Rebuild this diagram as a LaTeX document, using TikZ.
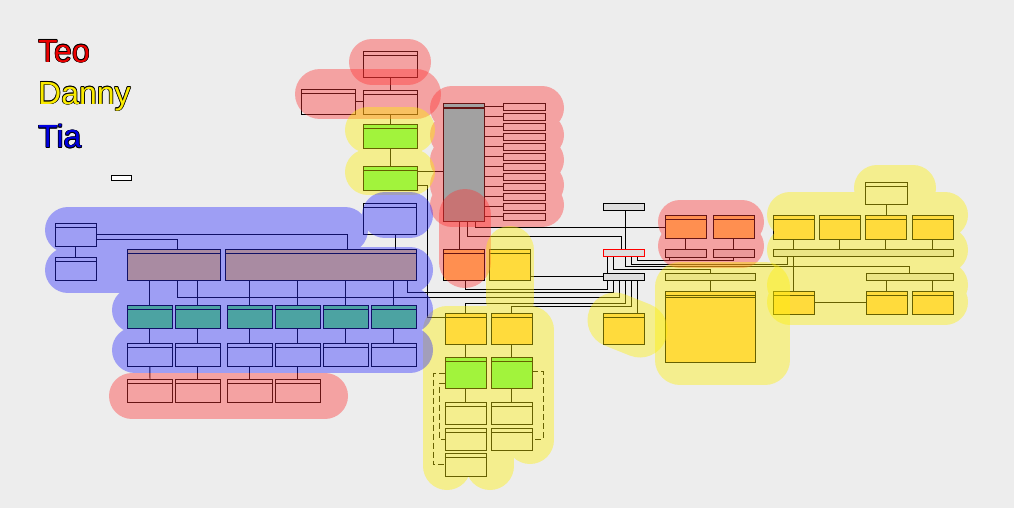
\documentclass[tikz,border=0pt]{standalone}
\usepackage{fontspec}
\setmainfont{Liberation Sans}
\definecolor{bgc}{RGB}{237,237,237}
\definecolor{orf}{RGB}{255,205,100}
\definecolor{grf}{RGB}{100,245,100}
\definecolor{cyf}{RGB}{100,235,235}
\definecolor{lgf}{RGB}{222,222,222}
\definecolor{hr}{RGB}{255,50,50}
\definecolor{hy}{RGB}{255,240,0}
\definecolor{hb}{RGB}{40,40,255}
\definecolor{tred}{RGB}{235,0,0}
\definecolor{tyel}{RGB}{250,235,0}
\definecolor{tblu}{RGB}{0,0,225}
\tikzset{
 ubx/.style={draw=black, line width=0.95pt, inner sep=0pt, outer sep=0pt, anchor=north west},
 cn/.style={draw=black, line width=0.95pt},
 dcn/.style={cn, dash pattern=on 6pt off 3pt},
 hl/.style={line cap=round, line join=round, draw opacity=0.4},
 lg/.style={anchor=base west, inner sep=0pt, font=\fontsize{32}{32}\selectfont},
}
\newcommand\mk[6]{\node[ubx, fill=#6, minimum width={#4-#2}, minimum height={#5-#3}] (#1) at (#2,#3) {};}
\newcommand\mkh[6]{\mk{#1}{#2}{#3}{#4}{#5}{#6}\draw[cn, line width=0.7pt] ([yshift=-4pt]#1.north west) -- ([yshift=-4pt]#1.north east);}
\newcommand\otext[5]{%
 \foreach \dx/\dy in {-0.7/0,0.7/0,0/-0.7,0/0.7,-0.5/-0.5,0.5/0.5,-0.5/0.5,0.5/-0.5}{%
  \node[lg, text=black] at (#2+\dx,#3+\dy) {#5};}
 \node[lg, text=#4] (#1) at (#2,#3) {#5};}
\begin{document}
\begin{tikzpicture}[x=1pt,y=-1pt]
\fill[bgc] (0,0) rectangle (1014,508);
\useasboundingbox (0,0) rectangle (1014,508);
% legend
\otext{teo}{38}{62.3}{tred}{Teo}
\otext{danny}{38}{104.3}{tyel}{Danny}
\otext{tia}{38}{147.7}{tblu}{Tia}
\mk{lgbox}{111}{175}{131}{180}{white}
% top column
\mkh{A}{363}{51}{417}{77}{none}
\mkh{B}{301}{89}{355}{114}{none}
\mkh{C}{363}{90}{417}{114}{none}
\mkh{D}{363}{124}{417}{148}{grf}
\mkh{E}{363}{166}{417}{190}{grf}
\draw[cn] (A.south) -- (C.north);
\draw[cn] (B.east) -- (B.east -| C.west);
\draw[cn] (C.south) -- (D.north);
\draw[cn] (D.south) -- (E.north);
% big box and list
\mkh{G}{443}{103}{484}{221}{cyf}
\draw[cn, line width=0.7pt] ([yshift=-5.5pt]G.north west) -- ([yshift=-5.5pt]G.north east);
\foreach \i in {0,...,11}{%
 \pgfmathsetmacro\ya{103+10*\i}\pgfmathsetmacro\yb{110.7+10*\i}
 \mk{s\i}{503}{\ya}{545}{\yb}{none}
 \draw[cn] (G.east |- s\i.west) -- (s\i.west);}
\draw[cn] ([yshift=-5.3pt]E.north east) -- +(26,0);
\mkh{H}{443}{249}{484}{280}{orf}
\mkh{J}{489}{249}{530}{280}{orf}
\draw[cn] ([xshift=16.7pt]G.south west) -- ([xshift=16.7pt]H.north west);
% grey header boxes
\mk{M}{603}{203}{644}{210}{lgf}
\node[ubx, draw=red, fill=lgf, minimum width=41, minimum height=7.5] (L) at (603,249.3) {};
\mk{K}{603}{273}{644}{280}{lgf}
\draw[cn] ([xshift=22.3pt]M.south west) -- ([xshift=22.3pt]L.north west);
\draw[cn] ([xshift=32.7pt]G.south west) |- (665,227.3);
\draw[cn] ([xshift=24.7pt]G.south west) |- (621,236.7) -- ([xshift=18pt]L.north west);
% orange pair
\mkh{I1}{665}{215}{706}{238}{orf}
\mkh{I2}{713}{215}{754}{238}{orf}
\mk{N1}{665}{249}{706}{257}{lgf}
\mk{N2}{713}{249}{754}{257}{lgf}
\draw[cn] (I1.south) -- (N1.north);
\draw[cn] (I2.south) -- (N2.north);
\mk{S}{665}{273}{755}{280}{lgf}
\mkh{T}{665}{291}{755}{362}{orf}
\draw[cn, line width=0.7pt] ([yshift=-6.5pt]T.north west) -- ([yshift=-6.5pt]T.north east);
\draw[cn] (S.south) -- (T.north);
\mkh{X}{603}{313}{644}{344}{orf}
% right cluster
\mkh{V}{865}{182}{907}{204}{none}
\mkh{W1}{773}{215}{814}{239}{orf}
\mkh{W2}{819}{215}{860}{239}{orf}
\mkh{W3}{865}{215}{906}{239}{orf}
\mkh{W4}{912}{215}{953}{239}{orf}
\mk{P}{773}{249}{953}{256}{lgf}
\mk{Q}{866}{273}{953}{280}{lgf}
\mkh{R}{773}{291}{814}{314}{orf}
\mkh{U1}{866}{291}{907}{314}{orf}
\mkh{U2}{912}{291}{953}{314}{orf}
\draw[cn] (V.south) -- (V.south |- W3.north);
\foreach \w in {W1,W2,W3,W4}{\draw[cn] (\w.south) -- (\w.south |- P.north);}
\draw[cn] (R.north |- P.south) -- (R.north);
\draw[cn] (U1.north |- Q.south) -- (U1.north);
\draw[cn] (U2.north |- Q.south) -- (U2.north);
\draw[cn] (R.east) -- (R.east -| U1.west);
% L connectors
\draw[cn] ([xshift=34.3pt]L.south west) |- (733.5,260.7) -- (N2.south);
\draw[cn] ([xshift=4.3pt]N1.south west) -- ++(0,3.7);
\draw[cn] ([xshift=28.3pt]L.south west) |- (787.3,264) -- ([xshift=14.3pt]P.south west);
\draw[cn] ([xshift=22.3pt]L.south west) |- (909.3,266.5) -- ([xshift=43.3pt]Q.north west);
\draw[cn] ([xshift=10.3pt]L.south west) |- (710,269) -- (S.north);
\draw[cn] ([xshift=4.3pt]L.south west) -- ([xshift=4.3pt]K.north west);
% blue cluster
\mkh{Z1}{55}{223}{96}{246}{none}
\mkh{Z2}{55}{257}{96}{280}{none}
\mkh{AA}{363}{203}{416}{234}{none}
\mkh{Y1}{127}{249}{220}{280}{orf}
\mkh{Y2}{225}{249}{416}{280}{orf}
\draw[cn] (Z1.south) -- (Z2.north);
\draw[cn] (Z1.east) -| ([xshift=122.3pt]Y2.north west);
\draw[cn] ([yshift=-16.3pt]Z1.north east) -| ([xshift=50.3pt]Y1.north west);
\draw[cn] ([xshift=32.3pt]AA.south west) -- ([xshift=170.3pt]Y2.north west);
\foreach \n/\xa/\xb in {1/127.3/172.3,2/175.3/220.3,3/227.3/272.3,4/275.3/320.3,5/323.3/368.3,6/371.3/416.3}{%
 \mkh{g\n}{\xa}{305.3}{\xb}{328.3}{grf}
 \mkh{w\n}{\xa}{343.3}{\xb}{366.3}{none}
 \draw[cn] (g\n.south) -- (w\n.north);}
\foreach \n/\xa/\xb in {1/127.3/172.7,2/175.3/220.3,3/227.3/272.3,4/275.3/320.3}{%
 \mkh{r\n}{\xa}{379.3}{\xb}{402.7}{none}
 \draw[cn] (w\n.south) -- (r\n.north);}
\foreach \g in {g1,g2}{\draw[cn] (\g.north |- Y1.south) -- (\g.north);}
\foreach \g in {g3,g4,g5,g6}{\draw[cn] (\g.north |- Y2.south) -- (\g.north);}
% bottom centre column
\mkh{F}{445}{313}{486}{344}{orf}
\mkh{F2}{491}{313}{532}{344}{orf}
\mkh{GG1}{445}{357}{486}{388}{grf}
\mkh{GG2}{491}{357}{532}{388}{grf}
\mkh{WB1L}{445}{402}{486}{424}{none}
\mkh{WB1R}{491}{402}{532}{424}{none}
\mkh{WB2L}{445}{428}{486}{450}{none}
\mkh{WB2R}{491}{428}{532}{450}{none}
\mkh{WB3L}{445}{453}{486}{476}{none}
\draw[cn] (F.south) -- (GG1.north);
\draw[cn] (F2.south) -- (GG2.north);
\draw[cn] (GG1.south) -- (WB1L.north);
\draw[cn] (GG2.south) -- (WB1R.north);
\draw[dcn] ([yshift=-16.3pt]GG1.north west) -| ([xshift=-11.7pt]WB3L.west) -- (WB3L.west);
\draw[dcn] ([yshift=-26.3pt]GG1.north west) -| ([xshift=-5.7pt]WB2L.west) -- (WB2L.west);
\draw[dcn] ([yshift=-14.7pt]GG2.north east) -| ([xshift=11.3pt]WB2R.east) -- (WB2R.east);
% long connectors
\draw[cn] ([yshift=-19.3pt]E.north east) -| ([xshift=-17.7pt,yshift=-4pt]F.north west) -- ([yshift=-4pt]F.north west);
\draw[cn] (K.west -| J.east) -- (K.west);
\draw[cn] ([xshift=22.7pt]H.south west) |- (607.7,289) -- ([xshift=4.7pt]K.south west);
\draw[cn] ([xshift=182.3pt]Y2.south west) |- (613.3,292.8) -- ([xshift=10.3pt]K.south west);
\draw[cn] ([xshift=50.3pt]Y1.south west) |- (619.3,297.3) -- ([xshift=16.3pt]K.south west);
\draw[cn] ([xshift=22pt]K.south west) |- (465.5,303.3) -- (F.north);
\draw[cn] ([xshift=28pt]K.south west) |- (511.5,306.7) -- (F2.north);
\draw[cn] ([xshift=34.3pt]K.south west) -- ([xshift=34.3pt]X.north west);
% highlights: red (Teo)
\draw[hl, hr, line width=46pt] (372,62) -- (408,62);
\draw[hl, hr, line width=50pt] (320,94) -- (416,94);
\draw[hl, hr, line width=44pt] (452,108) -- (542,108) (452,135) -- (542,135) (452,160) -- (542,160) (452,185) -- (542,185) (452,205) -- (542,205);
\draw[hl, hr, line width=52pt] (465,215) -- (465,262);
\draw[hl, hr, line width=44pt] (680,222) -- (742,222) (680,246) -- (742,246);
\draw[hl, hr, line width=46pt] (132,396) -- (325,396);
% yellow (Danny)
\draw[hl, hy, line width=46pt] (368,130) -- (412,130) (368,172) -- (412,172);
\draw[hl, hy, line width=48pt] (510,250) -- (510,300) (447,330) -- (447,466) (490,330) -- (490,466) (530,330) -- (530,440) (447,330) -- (530,330);
\draw[hl, hy, line width=55pt] (615,320) -- (640,330);
\draw[hl, hy, line width=50pt] (680,287) -- (765,287) -- (765,360) -- (680,360) -- cycle (700,322) -- (745,322);
\draw[hl, hy, line width=46pt] (790,215) -- (945,215) (790,250) -- (945,250) (790,285) -- (945,285) (790,302) -- (945,302) (877,188) -- (913,188);
% blue (Tia)
\draw[hl, hb, line width=46pt] (68,230) -- (345,230) (68,270) -- (410,270) (135,310) -- (410,310) (135,350) -- (410,350) (385,215) -- (410,215);
\end{tikzpicture}
\end{document}
